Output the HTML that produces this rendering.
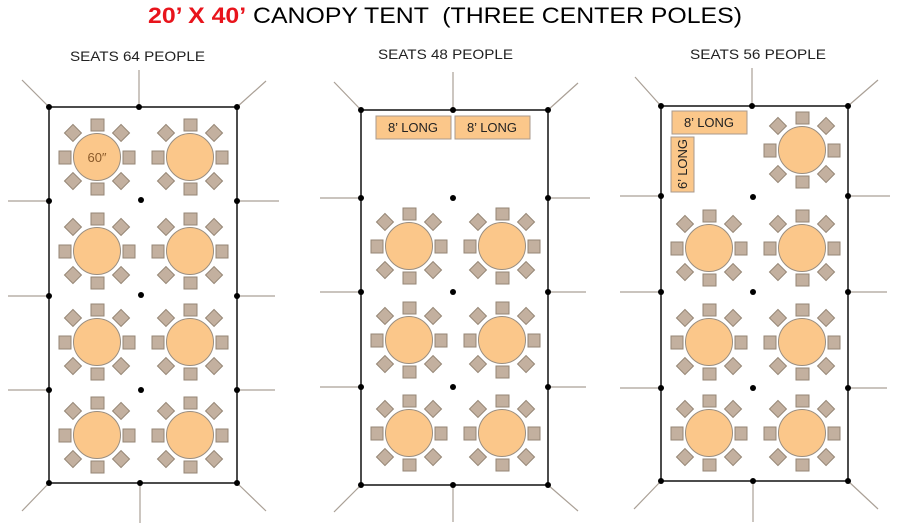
<!DOCTYPE html>
<html><head><meta charset="utf-8"><style>
html,body{margin:0;padding:0;background:#fff;}
svg{display:block;}
</style></head><body>
<svg width="900" height="525" viewBox="0 0 900 525" xmlns="http://www.w3.org/2000/svg">
<defs>
<g id="t">
<g fill="#c3b09f" stroke="#958675" stroke-width="1">
<rect x="-6" y="-38" width="13" height="12"/>
<rect x="-6" y="26" width="13" height="12"/>
<rect x="-38" y="-6" width="12" height="13"/>
<rect x="26" y="-6" width="12" height="13"/>
<rect x="-6" y="-6" width="12" height="12" transform="rotate(45) translate(0,-34)"/>
<rect x="-6" y="-6" width="12" height="12" transform="rotate(135) translate(0,-34)"/>
<rect x="-6" y="-6" width="12" height="12" transform="rotate(225) translate(0,-34)"/>
<rect x="-6" y="-6" width="12" height="12" transform="rotate(315) translate(0,-34)"/>
</g>
<circle r="23.5" fill="#fbc78a" stroke="#9a8e80" stroke-width="1"/>
</g>
</defs>

<text y="23" font-family="Liberation Sans, sans-serif" font-size="22" x="148" textLength="594" lengthAdjust="spacingAndGlyphs"><tspan fill="#e8141c" font-weight="bold">20’ X 40’</tspan> CANOPY TENT &#160;(THREE CENTER POLES)</text>
<g font-family="Liberation Sans, sans-serif" font-size="14" fill="#222">
<text x="70" y="61" textLength="135" lengthAdjust="spacingAndGlyphs">SEATS 64 PEOPLE</text>
<text x="378" y="59" textLength="135" lengthAdjust="spacingAndGlyphs">SEATS 48 PEOPLE</text>
<text x="690" y="59" textLength="136" lengthAdjust="spacingAndGlyphs">SEATS 56 PEOPLE</text>
</g>

<!-- Panel 1 -->
<g stroke="#aaa096" stroke-width="1.2">
<line x1="49" y1="107" x2="22" y2="80"/><line x1="139" y1="107" x2="139" y2="70"/><line x1="237" y1="107" x2="266" y2="81"/>
<line x1="49" y1="201" x2="8" y2="201"/><line x1="49" y1="296" x2="8" y2="296"/><line x1="49" y1="390" x2="8" y2="390"/>
<line x1="237" y1="201" x2="279" y2="201"/><line x1="237" y1="296" x2="275" y2="296"/><line x1="237" y1="390" x2="275" y2="390"/>
<line x1="49" y1="483" x2="22" y2="511"/><line x1="140" y1="483" x2="140" y2="523"/><line x1="237" y1="483" x2="266" y2="511"/>
</g>
<rect x="49" y="107" width="188" height="376" fill="none" stroke="#111" stroke-width="1.5"/>
<g fill="#000">
<circle cx="49" cy="107" r="3"/><circle cx="139" cy="107" r="3"/><circle cx="237" cy="107" r="3"/>
<circle cx="49" cy="201" r="3"/><circle cx="49" cy="296" r="3"/><circle cx="49" cy="390" r="3"/>
<circle cx="237" cy="201" r="3"/><circle cx="237" cy="296" r="3"/><circle cx="237" cy="390" r="3"/>
<circle cx="49" cy="483" r="3"/><circle cx="140" cy="483" r="3"/><circle cx="237" cy="483" r="3"/>
<circle cx="141" cy="200" r="3"/><circle cx="141" cy="295" r="3"/><circle cx="141" cy="390" r="3"/>
</g>
<use href="#t" x="97" y="157"/><use href="#t" x="190" y="157"/>
<use href="#t" x="97" y="251"/><use href="#t" x="190" y="251"/>
<use href="#t" x="97" y="342"/><use href="#t" x="190" y="342"/>
<use href="#t" x="97" y="435"/><use href="#t" x="190" y="435"/>
<text x="97" y="162" text-anchor="middle" font-family="Liberation Sans, sans-serif" font-size="13" fill="#8a5a2a">60″</text>

<!-- Panel 2 -->
<g stroke="#aaa096" stroke-width="1.2">
<line x1="361" y1="110" x2="334" y2="82"/><line x1="453" y1="110" x2="453" y2="72"/><line x1="548" y1="110" x2="578" y2="83"/>
<line x1="361" y1="198" x2="320" y2="198"/><line x1="361" y1="292" x2="320" y2="292"/><line x1="361" y1="387" x2="320" y2="387"/>
<line x1="548" y1="198" x2="590" y2="198"/><line x1="548" y1="292" x2="586" y2="292"/><line x1="548" y1="387" x2="586" y2="387"/>
<line x1="361" y1="485" x2="334" y2="512"/><line x1="453" y1="485" x2="453" y2="522"/><line x1="548" y1="485" x2="578" y2="511"/>
</g>
<rect x="361" y="110" width="187" height="375" fill="none" stroke="#111" stroke-width="1.5"/>
<g fill="#000">
<circle cx="361" cy="110" r="3"/><circle cx="453" cy="110" r="3"/><circle cx="548" cy="110" r="3"/>
<circle cx="361" cy="198" r="3"/><circle cx="361" cy="292" r="3"/><circle cx="361" cy="387" r="3"/>
<circle cx="548" cy="198" r="3"/><circle cx="548" cy="292" r="3"/><circle cx="548" cy="387" r="3"/>
<circle cx="361" cy="485" r="3"/><circle cx="453" cy="485" r="3"/><circle cx="548" cy="485" r="3"/>
<circle cx="453" cy="198" r="3"/><circle cx="453" cy="292" r="3"/><circle cx="453" cy="387" r="3"/>
</g>
<g fill="#fbc78a" stroke="#a89a8c" stroke-width="1">
<rect x="376" y="116" width="75" height="23"/><rect x="455" y="116" width="75" height="23"/>
</g>
<g font-family="Liberation Sans, sans-serif" font-size="13" fill="#222" text-anchor="middle">
<text x="413" y="132">8’ LONG</text><text x="492" y="132">8’ LONG</text>
</g>
<use href="#t" x="409" y="246"/><use href="#t" x="502" y="246"/>
<use href="#t" x="409" y="340"/><use href="#t" x="502" y="340"/>
<use href="#t" x="409" y="433"/><use href="#t" x="502" y="433"/>

<!-- Panel 3 -->
<g stroke="#aaa096" stroke-width="1.2">
<line x1="661" y1="106" x2="635" y2="77"/><line x1="752" y1="106" x2="752" y2="68"/><line x1="848" y1="106" x2="878" y2="80"/>
<line x1="661" y1="196" x2="620" y2="196"/><line x1="661" y1="292" x2="620" y2="292"/><line x1="661" y1="388" x2="620" y2="388"/>
<line x1="848" y1="196" x2="890" y2="196"/><line x1="848" y1="292" x2="887" y2="292"/><line x1="848" y1="388" x2="887" y2="388"/>
<line x1="661" y1="481" x2="634" y2="509"/><line x1="753" y1="481" x2="753" y2="522"/><line x1="848" y1="481" x2="878" y2="509"/>
</g>
<rect x="661" y="106" width="187" height="375" fill="none" stroke="#111" stroke-width="1.5"/>
<g fill="#000">
<circle cx="661" cy="106" r="3"/><circle cx="752" cy="106" r="3"/><circle cx="848" cy="106" r="3"/>
<circle cx="661" cy="196" r="3"/><circle cx="661" cy="292" r="3"/><circle cx="661" cy="388" r="3"/>
<circle cx="848" cy="196" r="3"/><circle cx="848" cy="292" r="3"/><circle cx="848" cy="388" r="3"/>
<circle cx="661" cy="481" r="3"/><circle cx="753" cy="481" r="3"/><circle cx="848" cy="481" r="3"/>
<circle cx="753" cy="197" r="3"/><circle cx="753" cy="292" r="3"/><circle cx="753" cy="388" r="3"/>
</g>
<g fill="#fbc78a" stroke="#a89a8c" stroke-width="1">
<rect x="672" y="111" width="75" height="23"/><rect x="671" y="137" width="23" height="55"/>
</g>
<g font-family="Liberation Sans, sans-serif" font-size="13" fill="#222" text-anchor="middle">
<text x="709" y="127">8’ LONG</text>
<text transform="translate(687,164) rotate(-90)">6’ LONG</text>
</g>
<use href="#t" x="802" y="150"/>
<use href="#t" x="709" y="248"/><use href="#t" x="802" y="248"/>
<use href="#t" x="709" y="342"/><use href="#t" x="802" y="342"/>
<use href="#t" x="709" y="433"/><use href="#t" x="802" y="433"/>
</svg>
</body></html>
